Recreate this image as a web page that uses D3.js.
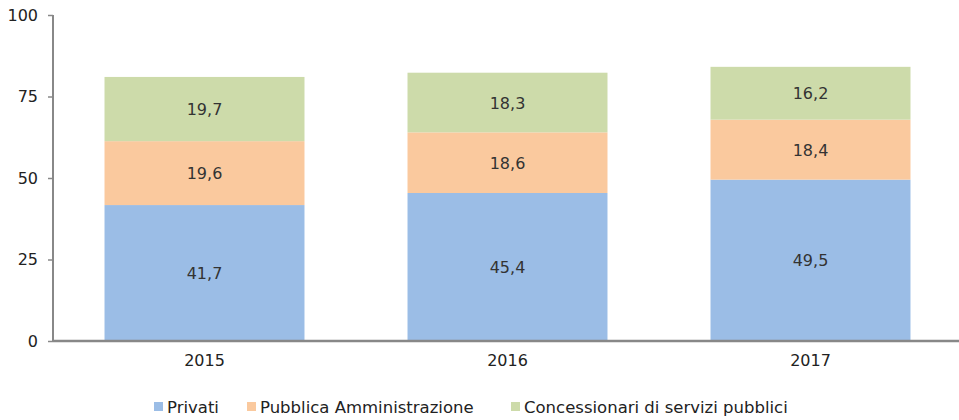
<!DOCTYPE html>
<html><head><meta charset="utf-8">
<script src="https://cdn.jsdelivr.net/npm/d3@7"></script>
<style>body{margin:0;background:#fff}svg{display:block}text{font-family:"DejaVu Sans",Verdana,sans-serif}</style>
</head><body><svg id="c" width="959" height="420"></svg>
<script>
const years = ["2015", "2016", "2017"];
const seriesNames = ["Privati", "Pubblica Amministrazione", "Concessionari di servizi pubblici"];
const privati = [41.7, 45.4, 49.5];
const pubblica = [19.6, 18.6, 18.4];
const concessionari = [19.7, 18.3, 16.2];
const yTicks = [0, 25, 50, 75, 100];
const colors = ["#9BBDE6", "#FAC99E", "#CDDBAA"];

const svg = d3.select("#c");
const x0 = 53, x1 = 962, yTop = 15, yBot = 341;
const FS = 16;
const x = d3.scaleBand().domain(years).range([x0, x1]).paddingInner(0.34).paddingOuter(0.17);
const y = d3.scaleLinear().domain([0, 100]).range([yBot, yTop]);

const rows = years.map((yr, i) => ({year: yr, s0: privati[i], s1: pubblica[i], s2: concessionari[i]}));
const stack = d3.stack().keys(["s0", "s1", "s2"])(rows);
const fmt = v => d3.format(".1f")(v).replace(".", ",");

stack.forEach((layer, k) => {
  const g = svg.append("g");
  g.selectAll("rect").data(layer).enter().append("rect")
    .attr("x", d => x(d.data.year)).attr("width", x.bandwidth())
    .attr("y", d => y(d[1])).attr("height", d => y(d[0]) - y(d[1]))
    .attr("fill", colors[k]);
  g.selectAll("text").data(layer).enter().append("text")
    .attr("x", d => x(d.data.year) + x.bandwidth() / 2)
    .attr("y", d => (y(d[0]) + y(d[1])) / 2 + 6)
    .attr("text-anchor", "middle").attr("font-size", FS).attr("fill", "#333")
    .text(d => fmt(d[1] - d[0]));
});

// y axis
const ya = svg.append("g").attr("transform", `translate(${x0},0)`)
  .call(d3.axisLeft(y).tickValues(yTicks).tickSize(5).tickPadding(10).tickFormat(d3.format("d")));
ya.attr("font-size", FS).attr("font-family", null);
ya.select(".domain").attr("stroke", "#888").attr("stroke-width", 2).attr("d", `M0,${yTop}V${yBot}`);
ya.selectAll(".tick line").attr("stroke", "#888").attr("stroke-width", 1.5);
ya.selectAll(".tick text").attr("fill", "#222");

// x axis
const xa = svg.append("g").attr("transform", `translate(0,${yBot})`)
  .call(d3.axisBottom(x).tickSize(0).tickPadding(14));
xa.attr("font-size", FS).attr("font-family", null);
xa.select(".domain").attr("stroke", "#888").attr("stroke-width", 2.5).attr("d", `M${x0},0H959`);
xa.selectAll(".tick text").attr("fill", "#222");

// legend
const legX = [154, 247, 511];
const lg = svg.append("g");
seriesNames.forEach((n, i) => {
  lg.append("rect").attr("x", legX[i]).attr("y", 402).attr("width", 9).attr("height", 9).attr("fill", colors[i]);
  lg.append("text").attr("x", legX[i] + 13).attr("y", 413).attr("font-size", 16.5).attr("fill", "#222").text(n);
});
</script></body></html>
